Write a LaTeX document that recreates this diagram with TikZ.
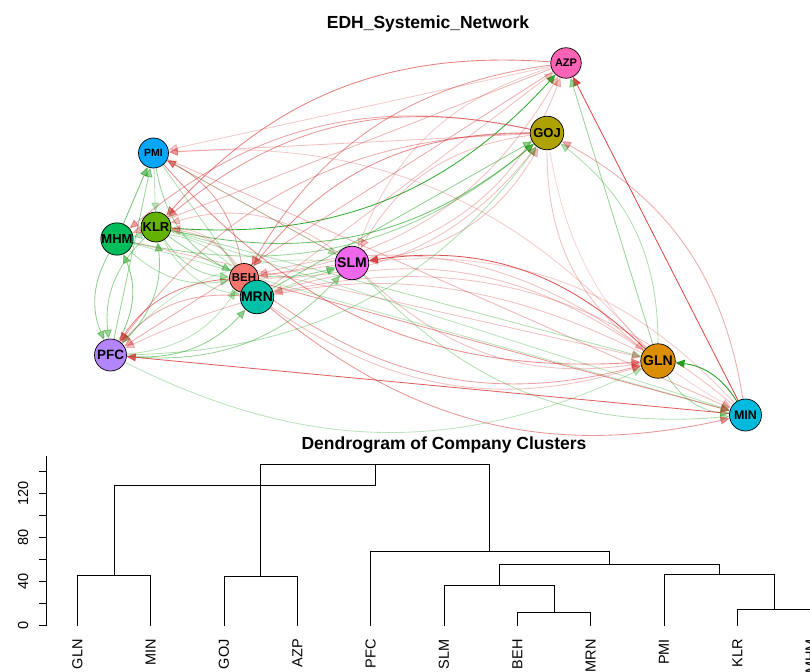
\documentclass[tikz,border=0pt]{standalone}
\usepackage{fontspec}
\setmainfont{Liberation Sans}
\usepackage{tikz}
\usetikzlibrary{arrows.meta,backgrounds}

\definecolor{edgegreen}{RGB}{30,160,30}
\definecolor{edgered}{RGB}{210,45,45}
\definecolor{cBEH}{HTML}{F8766D}
\definecolor{cGLN}{HTML}{DB8E00}
\definecolor{cGOJ}{HTML}{AEA200}
\definecolor{cKLR}{HTML}{64B200}
\definecolor{cMHM}{HTML}{00BD5C}
\definecolor{cMRN}{HTML}{00C1A7}
\definecolor{cMIN}{HTML}{00BADE}
\definecolor{cPMI}{HTML}{00A6FF}
\definecolor{cPFC}{HTML}{B385FF}
\definecolor{cSLM}{HTML}{EF67EB}
\definecolor{cAZP}{HTML}{FF63B6}

\tikzset{
  vert/.style={circle, draw=black, line width=.7pt, inner sep=0pt, minimum size=#1},
  lab/.style={font=\bfseries\fontsize{#1}{#1}\selectfont},
  link/.style={line width=.85pt, -{Triangle[length=9pt,width=8pt]}},
  gl/.style={link, edgegreen},
  rl/.style={link, edgered},
  dendro/.style={line width=.8pt},
  leaf/.style={rotate=90, anchor=east, inner sep=0pt, font=\fontsize{14.5}{15}\selectfont},
  ticklab/.style={rotate=90, anchor=south, inner sep=0pt, font=\fontsize{14.5}{15}\selectfont},
  heading/.style={anchor=base, inner sep=0pt, font=\bfseries\fontsize{17.5}{20}\selectfont}
}

\begin{document}
\begin{tikzpicture}[x=1pt,y=1pt]
        \useasboundingbox (0,0) rectangle (810,-671);
        \node[heading] (nettitle) at (428,-28.3) {EDH\_Systemic\_Network};
        \node[vert=30.5pt, fill=cAZP, lab=11] (AZP) at (566,-63) {AZP};
        \node[vert=33.5pt, fill=cGOJ, lab=13] (GOJ) at (547,-133) {GOJ};
        \node[vert=30pt, fill=cPMI, lab=10.5] (PMI) at (153.5,-153) {PMI};
        \node[vert=30pt, fill=cKLR, lab=13] (KLR) at (156,-227) {KLR};
        \node[vert=31.5pt, fill=cMHM, lab=13] (MHM) at (117,-239) {MHM};
        \node[vert=29pt, fill=cBEH, lab=11.5] (BEH) at (244,-278) {BEH};
        \node[vert=33.5pt, fill=cMRN, lab=14] (MRN) at (257,-297) {MRN};
        \node[vert=33.5pt, fill=cSLM, lab=14] (SLM) at (352,-263) {SLM};
        \node[vert=32pt, fill=cPFC, lab=13.5] (PFC) at (110.5,-355) {PFC};
        \node[vert=34.5pt, fill=cGLN, lab=14] (GLN) at (658,-361) {GLN};
        \node[vert=32pt, fill=cMIN, lab=12.5] (MIN) at (745.5,-415) {MIN};
        \begin{scope}[on background layer]
        \foreach \s/\t/\c/\o/\b in {MIN/GLN/gl/1/26, GLN/MIN/gl/.4/26, KLR/AZP/gl/.9/26, AZP/KLR/rl/.6/26,
            KLR/GOJ/gl/.65/26, GOJ/KLR/rl/.5/26, GLN/SLM/rl/.8/26, SLM/GLN/rl/.3/26,
            PFC/GLN/gl/.3/26, GLN/PFC/rl/.3/26, MHM/PFC/gl/.5/26, PFC/MHM/gl/.55/26,
            KLR/PFC/gl/.45/26, PFC/KLR/gl/.5/26, GLN/GOJ/gl/.35/26, GOJ/GLN/rl/.3/26,
            MIN/GOJ/rl/.4/26, GOJ/MIN/rl/.2/26, PMI/BEH/gl/.45/26, BEH/PMI/rl/.45/26,
            KLR/SLM/gl/.45/26, SLM/KLR/rl/.3/26,
            KLR/MRN/gl/.3/26, MRN/KLR/rl/.3/26, KLR/BEH/gl/.4/26, BEH/KLR/rl/.25/26,
            MHM/GOJ/gl/.45/26, GOJ/MHM/rl/.45/26, MHM/BEH/gl/.35/26, BEH/MHM/gl/.3/26,
            BEH/PFC/rl/.6/26, PFC/BEH/gl/.3/26, BEH/GLN/rl/.45/26, GLN/BEH/rl/.3/26,
            BEH/GOJ/rl/.3/26, GOJ/BEH/rl/.55/26, AZP/BEH/rl/.5/26, BEH/AZP/rl/.3/26,
            MRN/PFC/rl/.4/26, PFC/MRN/gl/.5/26, MRN/GLN/rl/.3/26, GLN/MRN/rl/.3/26,
            SLM/MIN/gl/.35/26, MIN/SLM/rl/.25/26, SLM/PFC/gl/.25/26, PFC/SLM/gl/.45/26,
            SLM/AZP/rl/.3/26, AZP/SLM/rl/.25/26, SLM/GOJ/rl/.3/26, GOJ/SLM/rl/.3/26,
            PMI/GLN/rl/.55/26, GLN/PMI/rl/.25/26, PFC/GOJ/gl/.35/26, GOJ/PFC/rl/.4/26,
            MRN/MIN/rl/.5/26, MIN/MRN/rl/.3/26,
            MIN/AZP/rl/.85/0, MIN/PFC/rl/.75/0, MHM/PMI/gl/.6/0, PFC/PMI/gl/.45/0,
            GLN/AZP/gl/.45/0, PMI/MRN/gl/.35/0, PMI/SLM/gl/.3/0, PMI/MIN/rl/.35/0,
            GOJ/PMI/rl/.3/0, AZP/PMI/rl/.25/0, KLR/GLN/gl/.35/0, KLR/MIN/gl/.3/0, MHM/GLN/rl/.3/0,
            MHM/MIN/gl/.3/0, BEH/MIN/rl/.5/0, MRN/GOJ/gl/.5/0, MRN/SLM/gl/.3/0,
            MRN/AZP/rl/.3/0, SLM/PMI/rl/.3/0, SLM/BEH/rl/.3/0, AZP/MHM/rl/.35/0,
            AZP/PFC/rl/.4/0, PMI/KLR/gl/.3/0}
            \draw[\c, opacity=\o] (\s) to[bend right=\b] (\t);
        \end{scope}
        \node[heading] (dentitle) at (444,-449) {Dendrogram of Company Clusters};
        \begin{scope}[shift={(0,-625.7)}, y=1.1pt]
        \draw[dendro] (46.7,0) -- (46.7,154.3);
        \foreach \h in {0,20,...,140} \draw[dendro] (46.7,\h) -- (39.3,\h);
        \foreach \h in {0,40,80,120} \node[ticklab] (tick\h) at (28.5,\h) {\h};
        \foreach \n [count=\i from 0] in {GLN,MIN,GOJ,AZP,PFC,SLM,BEH,MRN,PMI,KLR,MHM}
            \node[leaf] (leaf\n) at ({77.3+73.33*\i},-12.1) {\n};
        \draw[dendro] (77.3,0) |- (150.6,45.5) -- (150.6,0);
        \draw[dendro] (224,0) |- (297.3,45) -- (297.3,0);
        \draw[dendro] (517.3,0) |- (590.6,12.2) -- (590.6,0);
        \draw[dendro] (444,0) |- (554,36.4) -- (554,12.2);
        \draw[dendro] (737.3,0) |- (810.6,15.2) -- (810.6,0);
        \draw[dendro] (664,0) |- (774,46.3) -- (774,15.2);
        \draw[dendro] (499,36.4) |- (719,55.8) -- (719,46.3);
        \draw[dendro] (370.6,0) |- (609,67.4) -- (609,55.8);
        \draw[dendro] (260.7,45) |- (489.8,146.7) -- (489.8,67.4);
        \draw[dendro] (114,45.5) |- (375.2,127.3) -- (375.2,146.7);
        \end{scope}
    \end{tikzpicture}
\end{document}
